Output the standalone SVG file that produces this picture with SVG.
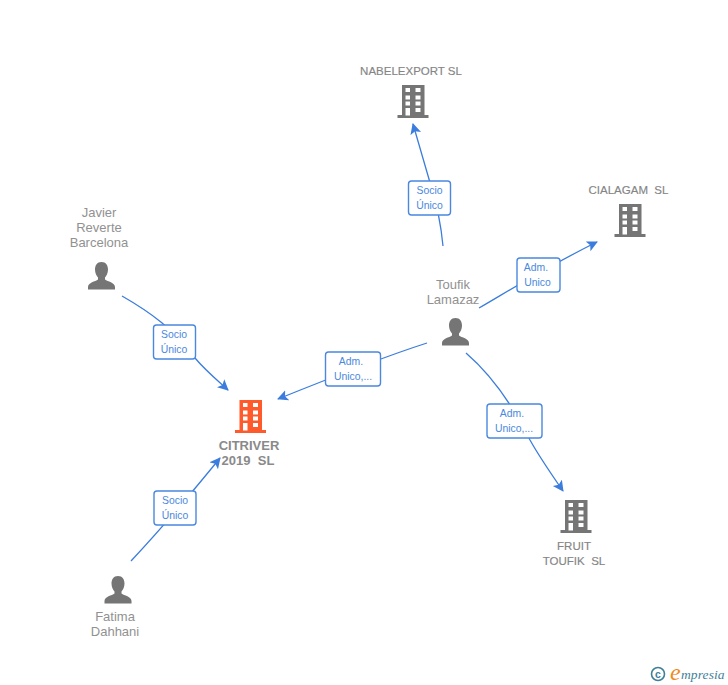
<svg xmlns="http://www.w3.org/2000/svg" width="728" height="685" viewBox="0 0 728 685">
<style>
text{font-family:"Liberation Sans",Arial,sans-serif;white-space:pre}
.n{font-size:13px;fill:#919191;text-anchor:middle}
.c{font-size:11.500px;fill:#858585;text-anchor:middle;stroke:#858585;stroke-width:.15}
.m{font-size:13px;font-weight:700;fill:#8a8a8a;text-anchor:middle}
.l{font-size:10.400px;fill:#4a88e0;text-anchor:middle}
.e{fill:none;stroke:#3b7ddd;stroke-width:1.300;marker-end:url(#a)}
.b{fill:#fff;stroke:#4a88e0;stroke-width:1.400}
</style>
<defs>
<marker id="a" markerUnits="userSpaceOnUse" markerWidth="14" markerHeight="12" refX="10" refY="5.500" orient="auto"><path d="M0 0L11 5.500L0 11L2.500 5.500Z" fill="#3b7ddd"/></marker>
<path id="bld" fill-rule="evenodd" d="M-11 -16H11.500V14H15.500V17H-15.500V14H-11ZM-7.500 -13V-9H-3V-13ZM2.500 -13V-9H7.500V-13ZM-7.500 -5.500V-1.500H-3V-5.500ZM2.500 -5.500V-1.500H7.500V-5.500ZM-7.500 .5V4.500H-3V.5ZM2.500 .5V4.500H7.500V.5ZM-7.500 7V14.500H-3V7ZM2.500 7V11H7.500V7Z"/>
<path id="per" d="M0 0C4.500 0 6.500 3.500 6.500 7.500C6.500 11 5 14 3.500 15.500V17.500C6 19.500 13.500 20.500 13.500 25V27.500H-13.500V25C-13.500 20.500 -6 19.500 -3.500 17.500V15.500C-5 14 -6.500 11 -6.500 7.500C-6.500 3.500 -4.500 0 0 0Z"/>
</defs>
<rect width="728" height="685" fill="#fff"/>
<g id="connectors">
<path class="e" d="M443 246C441 225 437 205 431 186C425 165 419 145 413 124"/>
<path class="e" d="M479 308C510 290 550 265 597 242"/>
<path class="e" d="M427 343C380 358 330 378 278 399"/>
<path class="e" d="M466 353C495 378 515 410 530 440C540 458 552 475 563 491"/>
<path class="e" d="M122 296C150 312 175 330 195 358C205 370 217 380 228 390"/>
<path class="e" d="M131 561C160 530 190 495 220 458"/>
</g>
<g id="edge-labels">
<rect class="b" x="408.500" y="181" width="42" height="34" rx="3"/><text class="l" x="429.500" y="194">Socio</text><text class="l" x="429.500" y="209">Único</text>
<rect class="b" x="517" y="258" width="43" height="34" rx="3"/><text class="l" x="536" y="271">Adm.</text><text class="l" x="537.500" y="286">Unico</text>
<rect class="b" x="325.500" y="352" width="55" height="34" rx="3"/><text class="l" x="351" y="365">Adm.</text><text class="l" x="353" y="380">Unico,...</text>
<rect class="b" x="487" y="404" width="55" height="34" rx="3"/><text class="l" x="512" y="417">Adm.</text><text class="l" x="514" y="432">Unico,...</text>
<rect class="b" x="153.500" y="325" width="42" height="34" rx="3"/><text class="l" x="174" y="338">Socio</text><text class="l" x="174" y="353">Único</text>
<rect class="b" x="154" y="491" width="42" height="34" rx="3"/><text class="l" x="175" y="504">Socio</text><text class="l" x="175" y="519">Único</text>
</g>
<g id="nabelexport"><text class="c" x="411" y="75">NABELEXPORT SL</text><use href="#bld" x="413" y="101" fill="#757575"/></g>
<g id="cialagam"><text class="c" x="628.500" y="194">CIALAGAM  SL</text><use href="#bld" x="630" y="220" fill="#757575"/></g>
<g id="toufik"><text class="n" x="453" y="289">Toufik</text><text class="n" x="453" y="304">Lamazaz</text><use href="#per" x="455.500" y="318" fill="#757575"/></g>
<g id="javier"><text class="n" x="99" y="217">Javier</text><text class="n" x="99" y="232">Reverte</text><text class="n" x="99" y="247">Barcelona</text><use href="#per" x="101.500" y="262" fill="#757575"/></g>
<g id="citriver"><use href="#bld" x="250.500" y="416" fill="#ff5a2b"/><text class="m" x="249" y="450">CITRIVER</text><text class="m" x="248" y="465">2019  SL</text></g>
<g id="fruit"><use href="#bld" x="576" y="516" fill="#757575"/><text class="c" x="574" y="550">FRUIT</text><text class="c" x="574" y="565">TOUFIK  SL</text></g>
<g id="fatima"><use href="#per" x="118" y="576" fill="#757575"/><text class="n" x="115" y="621">Fatima</text><text class="n" x="115" y="636">Dahhani</text></g>
<g id="logo">
<circle cx="658" cy="674" r="6.500" fill="none" stroke="#3f7f99" stroke-width="1.600"/>
<text x="658" y="677.500" font-size="10.500" font-weight="700" fill="#3f7f99" text-anchor="middle">c</text>
<text x="670" y="680" font-size="24" font-style="italic" fill="#f08a1d" style="font-family:'Liberation Serif',serif">e</text>
<text x="681" y="679" font-size="13.500" font-style="italic" fill="#3f7f99" style="font-family:'Liberation Serif',serif" letter-spacing=".1">mpresia</text>
</g>
</svg>
